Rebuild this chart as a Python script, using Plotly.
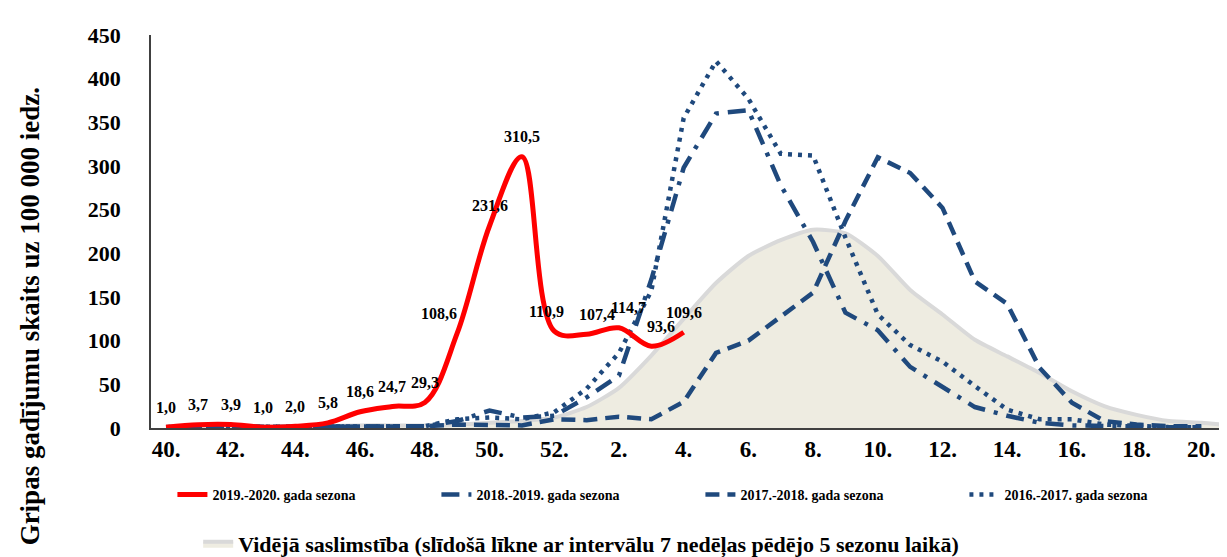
import plotly.graph_objects as go

# ---- data ----
weeks = [f"{w}." for w in list(range(40, 53)) + list(range(1, 22))]
tick_labels = ["40.", "42.", "44.", "46.", "48.", "50.", "52.", "2.", "4.", "6.", "8.",
               "10.", "12.", "14.", "16.", "18.", "20."]

s2019_2020 = [1.0, 3.7, 3.9, 1.0, 2.0, 5.8, 18.6, 24.7, 29.3, 108.6, 231.6, 310.5, 110.9,
              107.4, 114.7, 93.6, 109.6]
s2018_2019 = [1, 1, 1, 1, 1, 1, 1, 1, 2, 8, 20, 12, 14,
              35, 60, 170, 298, 360, 364, 278, 213, 132, 112, 70, 47, 24, 14, 6, 3, 2, 1, 1, 1]
s2017_2018 = [1, 2, 2, 1, 1, 1, 2, 2, 2, 4, 3, 3, 10,
              9, 13, 10, 30, 86, 100, 128, 155, 237, 310, 292, 252, 168, 142, 69, 29, 8, 4, 2, 2]
s2016_2017 = [1, 1, 2, 1, 1, 1, 1, 2, 2, 10, 12, 10, 18,
              45, 86, 157, 355, 420, 377, 314, 312, 218, 130, 95, 76, 48, 21, 10, 10, 4, 2, 1, 1]
avg_5_seasons = [2, 2, 2, 2, 2, 2, 3, 3, 3, 4, 6, 8, 12,
                 24, 46, 83, 125, 166, 197, 215, 227, 223, 197, 158, 130, 101, 82, 63, 42, 25, 15, 8, 6, 3]

names = ["2019.-2020. gada sezona", "2018.-2019. gada sezona",
         "2017.-2018. gada sezona", "2016.-2017. gada sezona"]
avg_name = "Vidējā saslimstība (slīdošā līkne ar intervālu 7 nedēļas pēdējo 5 sezonu laikā)"
y_title = "Gripas gadījumu skaits uz 100 000 iedz."

# ---- styles ----
FONT = "Liberation Serif, Times New Roman, serif"
BLUE = "#1F497D"
RED = "#FF0000"
LABEL_XSHIFT = {9: -18, 12: -8, 13: 10, 14: 10, 15: 10}  # by point index

fig = go.Figure()

fig.add_trace(go.Scatter(
    x=weeks[:len(avg_5_seasons)], y=avg_5_seasons, name=avg_name, mode="lines",
    line=dict(color="#D9D9D9", width=4, shape="spline", smoothing=0.6),
    fill="tozeroy", fillcolor="#EEECE1", legend="legend2"))

fig.add_trace(go.Scatter(
    x=weeks[:len(s2018_2019)], y=s2018_2019, name=names[1], mode="lines", legendrank=2,
    line=dict(color=BLUE, width=4.5, dash="18px,9px,4px,9px")))
fig.add_trace(go.Scatter(
    x=weeks[:len(s2017_2018)], y=s2017_2018, name=names[2], mode="lines", legendrank=3,
    line=dict(color=BLUE, width=4.5, dash="14px,8px")))
fig.add_trace(go.Scatter(
    x=weeks[:len(s2016_2017)], y=s2016_2017, name=names[3], mode="lines", legendrank=4,
    line=dict(color=BLUE, width=4.5, dash="4px,6px")))
fig.add_trace(go.Scatter(
    x=weeks[:len(s2019_2020)], y=s2019_2020, name=names[0], mode="lines", legendrank=1,
    line=dict(color=RED, width=5, shape="spline", smoothing=1.0)))

# data labels (x given as category index)
for i, v in enumerate(s2019_2020):
    fig.add_annotation(x=i, y=v, text=f"{v:.1f}".replace(".", ","), showarrow=False,
                       yshift=20, xshift=LABEL_XSHIFT.get(i, 0),
                       font=dict(family=FONT, size=16, color="black", weight="bold"))

fig.add_annotation(text=y_title, xref="paper", yref="paper", x=-0.112, y=0.283,
                   xanchor="center", yanchor="middle",
                   textangle=-90, showarrow=False,
                   font=dict(family=FONT, size=27, color="black", weight="bold"))

fig.update_layout(
    width=1227, height=557,
    margin=dict(l=143, r=0, t=27, b=137),
    plot_bgcolor="white", paper_bgcolor="white",
    font=dict(family=FONT, color="black"),
    legend=dict(orientation="h", xref="container", yref="container",
                x=0.134, y=1 - 487 / 557, xanchor="left", yanchor="middle",
                entrywidth=219, entrywidthmode="pixels",
                traceorder="normal",
                font=dict(family=FONT, size=14, weight="bold")),
    legend2=dict(orientation="h", xref="container", yref="container",
                 x=0.155, y=1 - 536 / 557, xanchor="left", yanchor="middle",
                 font=dict(family=FONT, size=22, weight="bold")),
    showlegend=True,
)
fig.update_xaxes(type="category", categoryorder="array", categoryarray=weeks,
                 range=[-0.464, 33.04], tickvals=tick_labels, ticktext=tick_labels,
                 showgrid=False, showline=True, linecolor="#404040", linewidth=1.5,
                 ticks="", ticklabelstandoff=0,
                 tickfont=dict(family=FONT, size=23, weight="bold", color="black"))
fig.update_yaxes(range=[0, 450], dtick=50, showgrid=False, showline=True,
                 linecolor="#404040", linewidth=1.5, ticks="", ticklabelstandoff=24,
                 zeroline=False,
                 tickfont=dict(family=FONT, size=22, weight="bold", color="black"))

fig.write_html("out.html")
